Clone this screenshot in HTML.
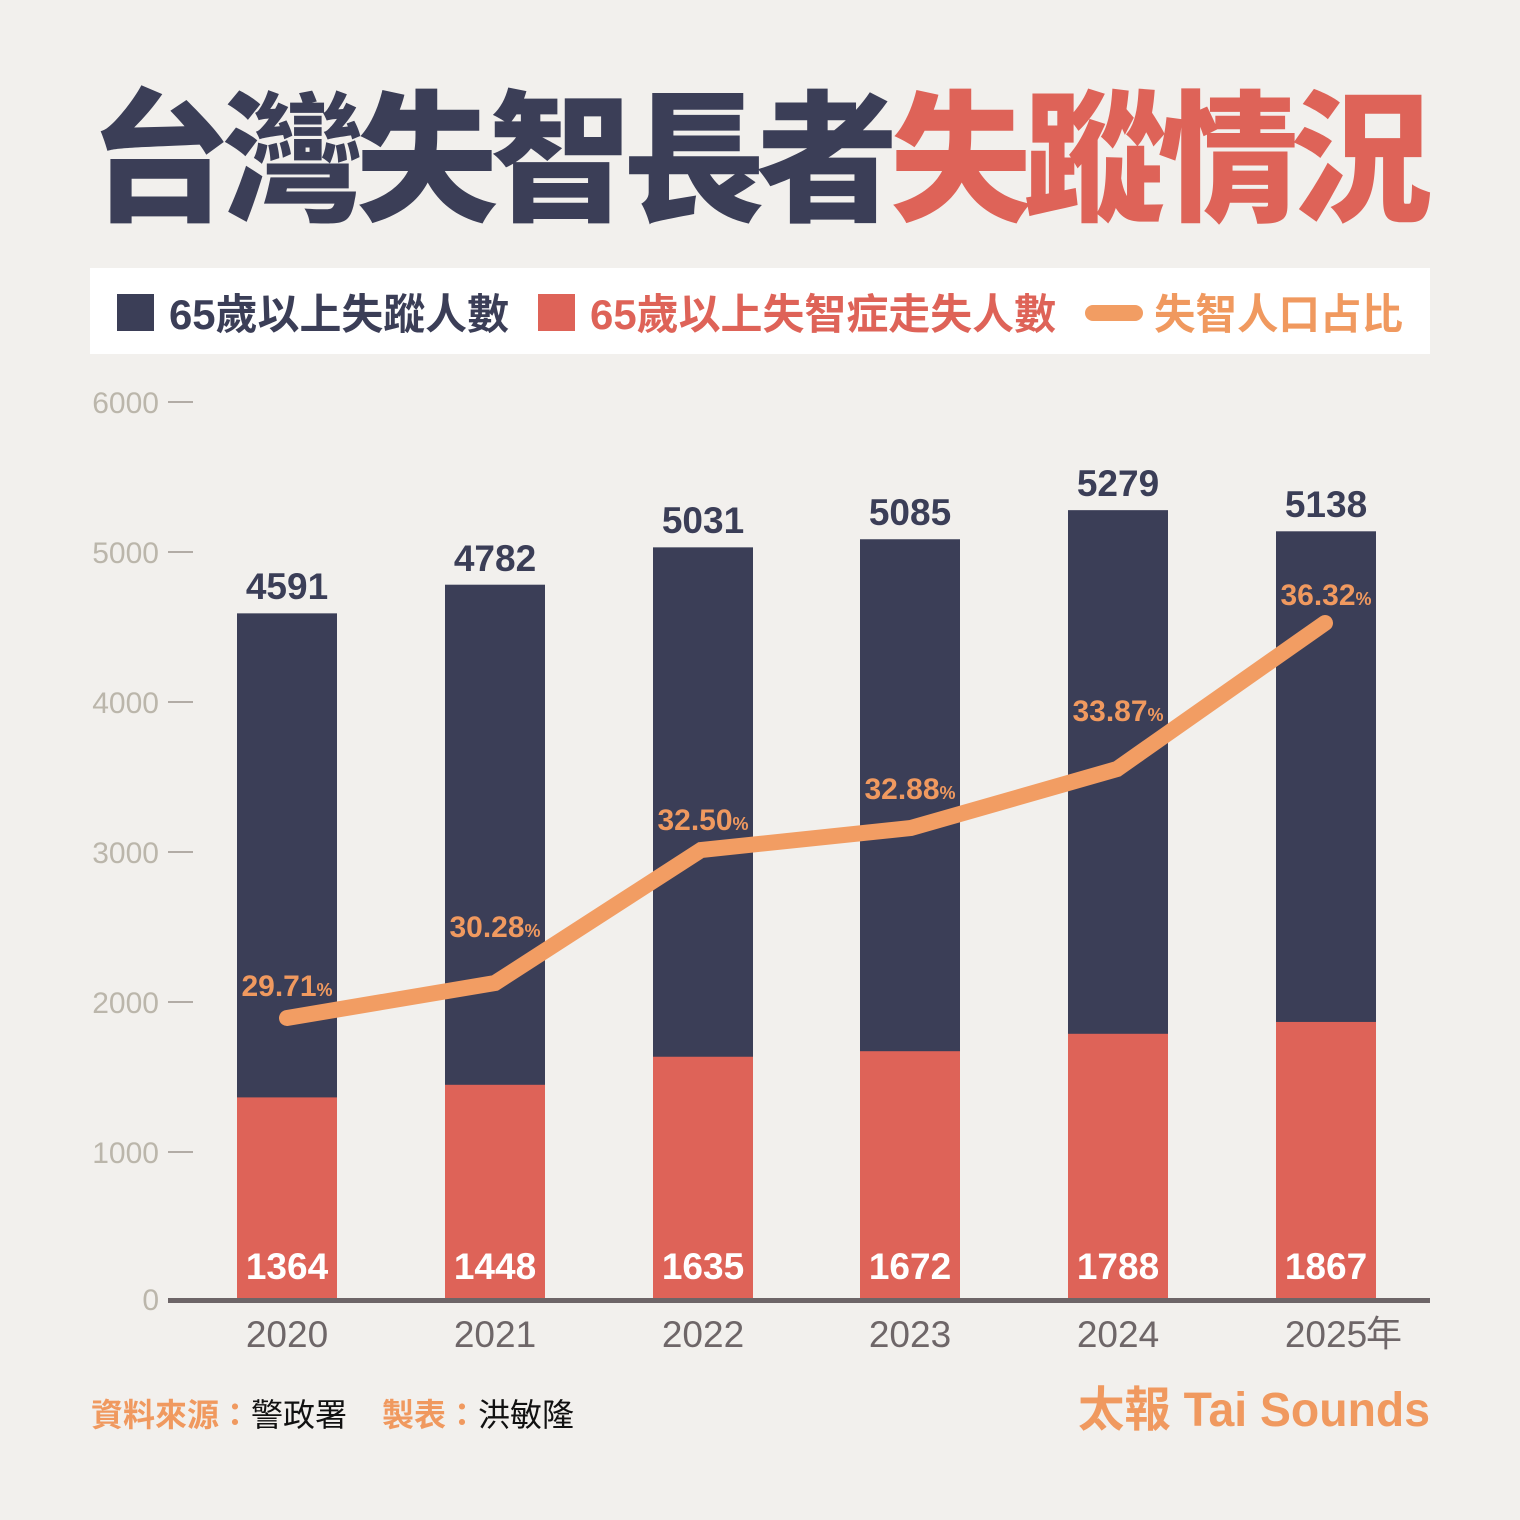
<!DOCTYPE html>
<html><head><meta charset="utf-8"><style>
html,body{margin:0;padding:0;background:#f2f0ed;}
svg{display:block;}
text{font-family:"Liberation Sans","Noto Sans CJK TC",sans-serif;}
</style></head><body>
<svg width="1520" height="1520" viewBox="0 0 1520 1520" xmlns="http://www.w3.org/2000/svg">
<rect x="0" y="0" width="1520" height="1520" fill="#f2f0ed"/>
<!-- Title -->
<text x="89" y="210" font-size="142" font-weight="900" letter-spacing="-8.5" fill="#3b3e57">台灣失智長者<tspan fill="#de6358">失蹤情況</tspan></text>
<!-- Legend -->
<rect x="90" y="268" width="1340" height="86" fill="#ffffff"/>
<rect x="117" y="294" width="37" height="37" fill="#3b3e57"/>
<text x="169" y="329" font-size="42" font-weight="700" fill="#3b3e57" textLength="340" lengthAdjust="spacingAndGlyphs">65歲以上失蹤人數</text>
<rect x="538" y="294" width="37" height="37" fill="#de6358"/>
<text x="590" y="329" font-size="42" font-weight="700" fill="#de6358" textLength="466" lengthAdjust="spacingAndGlyphs">65歲以上失智症走失人數</text>
<line x1="1093" y1="313" x2="1135" y2="313" stroke="#f29d63" stroke-width="16" stroke-linecap="round"/>
<text x="1154" y="329" font-size="42" font-weight="700" fill="#f0995f" textLength="249" lengthAdjust="spacingAndGlyphs">失智人口占比</text>
<!-- Y axis -->
<g font-size="30" fill="#bbb6ab" text-anchor="end">
<text x="159" y="413">6000</text>
<text x="159" y="563">5000</text>
<text x="159" y="713">4000</text>
<text x="159" y="863">3000</text>
<text x="159" y="1013">2000</text>
<text x="159" y="1163">1000</text>
<text x="159" y="1310">0</text>
</g>
<g stroke="#9d968f" stroke-width="1.6">
<line x1="168" y1="402" x2="193" y2="402"/>
<line x1="168" y1="552" x2="193" y2="552"/>
<line x1="168" y1="702" x2="193" y2="702"/>
<line x1="168" y1="852" x2="193" y2="852"/>
<line x1="168" y1="1002" x2="193" y2="1002"/>
<line x1="168" y1="1152" x2="193" y2="1152"/>
</g>
<!-- Bars dark -->
<g fill="#3b3e57">
<rect x="237" y="613.35" width="100" height="688.65"/>
<rect x="445" y="584.7" width="100" height="717.3"/>
<rect x="653" y="547.35" width="100" height="754.65"/>
<rect x="860" y="539.25" width="100" height="762.75"/>
<rect x="1068" y="510.15" width="100" height="791.85"/>
<rect x="1276" y="531.3" width="100" height="770.7"/>
</g>
<!-- Bars red -->
<g fill="#de6358">
<rect x="237" y="1097.4" width="100" height="204.6"/>
<rect x="445" y="1084.8" width="100" height="217.2"/>
<rect x="653" y="1056.75" width="100" height="245.25"/>
<rect x="860" y="1051.2" width="100" height="250.8"/>
<rect x="1068" y="1033.8" width="100" height="268.2"/>
<rect x="1276" y="1021.95" width="100" height="280.05"/>
</g>
<!-- Axis line -->
<rect x="168" y="1298" width="1262" height="5" fill="#6d6567"/>
<!-- Top labels -->
<g font-size="37" font-weight="700" fill="#3b3e57" text-anchor="middle">
<text x="287" y="599">4591</text>
<text x="495" y="571">4782</text>
<text x="703" y="533">5031</text>
<text x="910" y="525">5085</text>
<text x="1118" y="496">5279</text>
<text x="1326" y="517">5138</text>
</g>
<!-- Inner labels -->
<g font-size="37" font-weight="700" fill="#ffffff" text-anchor="middle">
<text x="287" y="1279">1364</text>
<text x="495" y="1279">1448</text>
<text x="703" y="1279">1635</text>
<text x="910" y="1279">1672</text>
<text x="1118" y="1279">1788</text>
<text x="1326" y="1279">1867</text>
</g>
<!-- Line -->
<polyline points="287,1018 495,983 701,850 911,828 1117,769 1325,623" fill="none" stroke="#f29d63" stroke-width="16" stroke-linecap="round" stroke-linejoin="miter"/>
<!-- Percent labels -->
<g font-size="30" font-weight="700" fill="#f0995f" text-anchor="middle">
<text x="287" y="996">29.71<tspan font-size="18">%</tspan></text>
<text x="495" y="937">30.28<tspan font-size="18">%</tspan></text>
<text x="703" y="830">32.50<tspan font-size="18">%</tspan></text>
<text x="910" y="799">32.88<tspan font-size="18">%</tspan></text>
<text x="1118" y="721">33.87<tspan font-size="18">%</tspan></text>
<text x="1326" y="605">36.32<tspan font-size="18">%</tspan></text>
</g>
<!-- X labels -->
<g font-size="37" fill="#6e6668" text-anchor="middle">
<text x="287" y="1347">2020</text>
<text x="495" y="1347">2021</text>
<text x="703" y="1347">2022</text>
<text x="910" y="1347">2023</text>
<text x="1118" y="1347">2024</text>
<text x="1326" y="1347">2025</text>
</g>
<text x="1366" y="1346" font-size="36" fill="#6e6668">年</text>
<!-- Footer -->
<text x="91" y="1426" font-size="32"><tspan fill="#f0995f" font-weight="700">資料來源：</tspan><tspan fill="#111111">警政署</tspan><tspan fill="#f0995f" font-weight="700" x="382">製表：</tspan><tspan fill="#111111">洪敏隆</tspan></text>
<text x="1430" y="1426" font-size="48" font-weight="700" fill="#f0995f" text-anchor="end" textLength="352" lengthAdjust="spacingAndGlyphs">太報 Tai Sounds</text>
</svg>
</body></html>
